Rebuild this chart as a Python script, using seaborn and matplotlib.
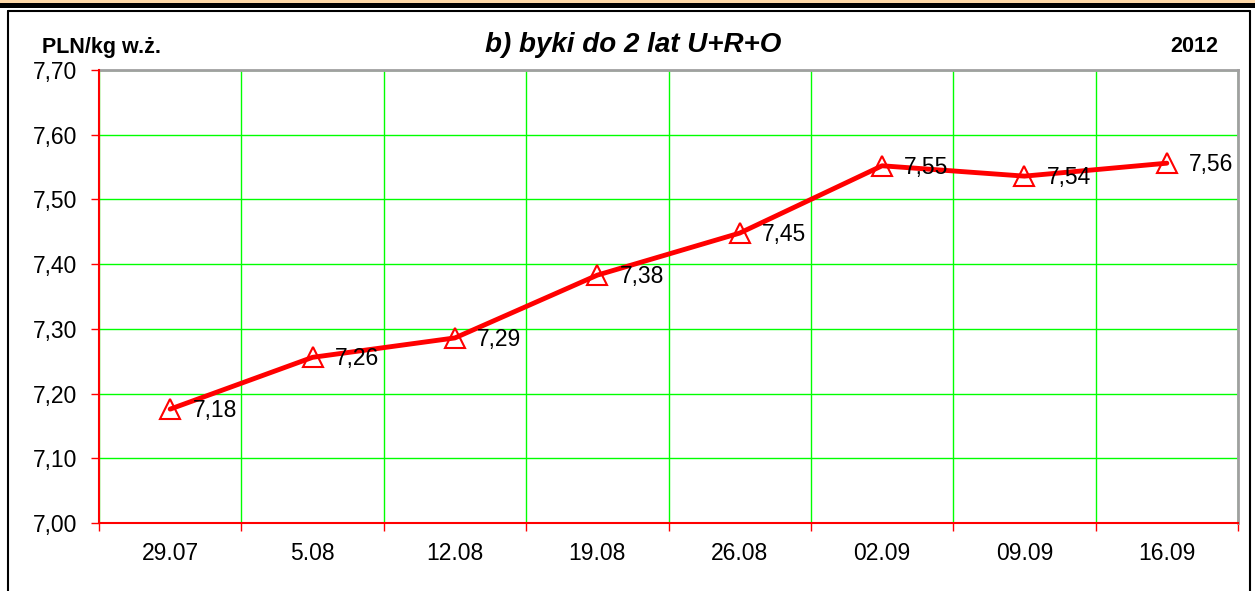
import matplotlib
matplotlib.use("Agg")
import matplotlib.pyplot as plt
from matplotlib.patches import Rectangle
from matplotlib.lines import Line2D
import seaborn as sns
import pandas as pd
import numpy as np

categories = ["29.07", "5.08", "12.08", "19.08", "26.08", "02.09", "09.09", "16.09"]
values = [7.176, 7.256, 7.286, 7.383, 7.448, 7.552, 7.536, 7.556]
y_ticks = [7.00, 7.10, 7.20, 7.30, 7.40, 7.50, 7.60, 7.70]
title_text = "b) byki do 2 lat U+R+O"
unit_text = "PLN/kg w.ż."
year_text = "2012"

sns.set_theme(style="white")
plt.rcParams['font.family'] = ['Liberation Sans', 'DejaVu Sans']

df = pd.DataFrame({"pos": np.arange(len(categories)), "value": values})

fig = plt.figure(figsize=(12.55, 5.91), dpi=100)
fig.patch.set_facecolor("white")
ax = fig.add_axes([99/1255, 1 - 523/591, (1238-99)/1255, (523-70)/591])

sns.lineplot(data=df, x="pos", y="value", ax=ax, color="#FF0000", linewidth=3.5,
             marker="^", markersize=15, markerfacecolor="none",
             markeredgecolor="#FF0000", markeredgewidth=1.5, zorder=5)

for p, v in zip(df["pos"], df["value"]):
    ax.annotate(f"{v:.2f}".replace(".", ","), (p, v), xytext=(16, -1),
                textcoords="offset points", ha="left", va="center",
                fontsize=16.5, color="black", zorder=6)

ax.set_xlim(-0.5, len(categories) - 0.5)
ax.set_ylim(7.0, 7.7)
ax.set_yticks(y_ticks)
ax.set_yticklabels([f"{t:.2f}".replace(".", ",") for t in y_ticks])
ax.set_xticks(np.arange(-0.5, len(categories), 1.0))
ax.set_xticklabels([])
ax.set_xticks(np.arange(len(categories)), minor=True)
ax.set_xticklabels(categories, minor=True)
ax.set_xlabel("")
ax.set_ylabel("")

ax.tick_params(axis="y", which="major", length=6, width=1, color="#FF0000",
               direction="out", labelsize=16.5, labelcolor="black", pad=10, left=True)
ax.tick_params(axis="x", which="major", length=6, width=1, color="#FF0000",
               direction="out", bottom=True)
ax.tick_params(axis="x", which="minor", length=0, labelsize=16.5,
               labelcolor="black", pad=14, bottom=True)

ax.grid(True, which="major", axis="both", color="#00FF00", linewidth=1)
ax.set_axisbelow(True)

for s in ["top", "right"]:
    ax.spines[s].set_color("#A0A0A0")
    ax.spines[s].set_linewidth(2)
for s in ["left", "bottom"]:
    ax.spines[s].set_color("#FF0000")
    ax.spines[s].set_linewidth(1.5)
    ax.spines[s].set_zorder(4)

# Titles
fig.text(633/1255, 1 - 45/591, title_text, ha="center", va="center",
         fontsize=20, fontweight="bold", fontstyle="italic", color="black")
fig.text(42/1255, 1 - 47/591, unit_text, ha="left", va="center",
         fontsize=15.5, fontweight="bold", color="black")
fig.text(1218/1255, 1 - 47/591, year_text, ha="right", va="center",
         fontsize=15.5, fontweight="bold", color="black")

# Frame decorations
fig.add_artist(Rectangle((0, 1 - 3/591), 1, 3/591, transform=fig.transFigure,
                         facecolor="#FFD9A8", edgecolor="none"))
fig.add_artist(Rectangle((0, 1 - 7.5/591), 1, 4.5/591, transform=fig.transFigure,
                         facecolor="black", edgecolor="none"))
fig.add_artist(Line2D([7.5/1255, 1250/1255], [1 - 10.5/591, 1 - 10.5/591],
                      transform=fig.transFigure, color="black", linewidth=1.5))
fig.add_artist(Line2D([7.5/1255, 7.5/1255], [0, 1 - 10.5/591],
                      transform=fig.transFigure, color="black", linewidth=1.5))
fig.add_artist(Line2D([1250/1255, 1250/1255], [0, 1 - 10.5/591],
                      transform=fig.transFigure, color="black", linewidth=1.5))

fig.savefig("out.png", dpi=100, facecolor="white")
